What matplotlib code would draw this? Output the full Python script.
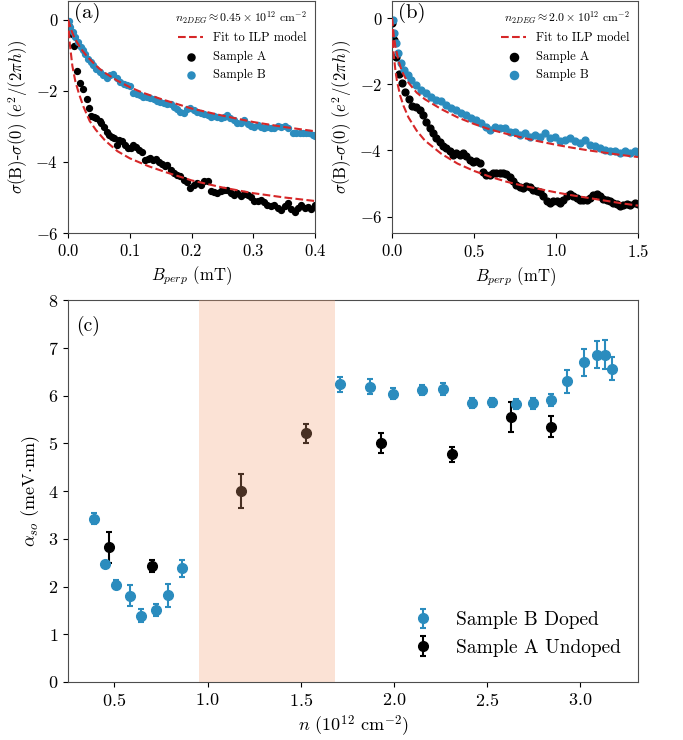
import numpy as np
import matplotlib
matplotlib.use("Agg")
import matplotlib.pyplot as plt

plt.rcParams.update({
    "font.family": "serif",
    "font.serif": ["cmr10", "DejaVu Serif"],
    "mathtext.fontset": "cm",
    "axes.formatter.use_mathtext": True,
    "axes.unicode_minus": True,
})

BLUE = "#2b8cbe"
RED = "#d62728"
SPAN = "#f2a176"

# ---- panel (a): n2DEG ~ 0.45e12 ----
a_B_x = [0.001, 0.004, 0.008, 0.012, 0.016, 0.021, 0.024, 0.028, 0.033, 0.037, 0.041, 0.046,
         0.052, 0.057, 0.063, 0.068, 0.073, 0.079, 0.084, 0.090, 0.095, 0.101, 0.106, 0.111,
         0.117, 0.122, 0.128, 0.133, 0.139, 0.144, 0.149, 0.155, 0.160, 0.166, 0.171, 0.177,
         0.182, 0.188, 0.193, 0.198, 0.204, 0.209, 0.215, 0.220, 0.226, 0.231, 0.236, 0.242,
         0.247, 0.253, 0.258, 0.263, 0.269, 0.274, 0.280, 0.285, 0.291, 0.296, 0.302, 0.307,
         0.313, 0.318, 0.323, 0.329, 0.334, 0.340, 0.345, 0.351, 0.356, 0.364, 0.370, 0.375,
         0.380, 0.386, 0.391, 0.397, 0.400]
a_B_y = [-0.03, -0.21, -0.35, -0.49, -0.63, -0.77, -0.87, -0.96, -1.10, -1.19, -1.28, -1.38,
         -1.47, -1.56, -1.65, -1.56, -1.54, -1.65, -1.75, -1.80, -1.84, -1.87, -2.07, -2.09,
         -2.12, -2.17, -2.17, -2.20, -2.23, -2.29, -2.31, -2.34, -2.36, -2.38, -2.45, -2.52,
         -2.59, -2.64, -2.52, -2.50, -2.54, -2.59, -2.62, -2.65, -2.68, -2.73, -2.71, -2.75,
         -2.77, -2.73, -2.68, -2.77, -2.82, -2.90, -2.91, -2.82, -2.93, -2.99, -3.01, -2.96,
         -3.01, -3.05, -3.02, -3.05, -3.04, -2.99, -3.02, -2.99, -3.05, -3.18, -3.19, -3.19,
         -3.18, -3.19, -3.19, -3.24, -3.27]
a_A_x = [0.001, 0.007, 0.010, 0.014, 0.019, 0.024, 0.030, 0.034, 0.038, 0.042, 0.046, 0.051,
         0.054, 0.059, 0.063, 0.066, 0.071, 0.075, 0.079, 0.083, 0.088, 0.092, 0.097, 0.102,
         0.106, 0.110, 0.115, 0.120, 0.125, 0.129, 0.133, 0.138, 0.142, 0.147, 0.152, 0.157,
         0.161, 0.166, 0.171, 0.177, 0.182, 0.188, 0.193, 0.198, 0.204, 0.209, 0.215, 0.220,
         0.226, 0.231, 0.236, 0.242, 0.247, 0.253, 0.258, 0.264, 0.269, 0.274, 0.280, 0.285,
         0.291, 0.296, 0.302, 0.307, 0.313, 0.318, 0.323, 0.329, 0.334, 0.340, 0.345, 0.351,
         0.356, 0.361, 0.367, 0.372, 0.378, 0.383, 0.389, 0.394, 0.400]
a_A_y = [-0.17, -0.40, -0.73, -1.44, -1.78, -1.94, -2.24, -2.50, -2.71, -2.75, -2.77, -2.84,
         -2.91, -3.01, -3.15, -3.24, -3.29, -3.33, -3.52, -3.38, -3.42, -3.52, -3.61, -3.61,
         -3.52, -3.58, -3.68, -3.73, -3.94, -3.92, -3.89, -3.96, -3.92, -4.01, -4.05, -4.11,
         -4.08, -4.22, -4.31, -4.36, -4.40, -4.50, -4.57, -4.73, -4.64, -4.59, -4.66, -4.54,
         -4.54, -4.82, -4.85, -4.87, -4.82, -4.78, -4.80, -4.87, -4.92, -4.87, -4.96, -4.89,
         -4.92, -4.98, -5.10, -5.10, -5.06, -5.13, -5.20, -5.24, -5.20, -5.29, -5.34, -5.24,
         -5.17, -5.32, -5.41, -5.29, -5.22, -5.29, -5.26, -5.32, -5.20]
a_fitB_x = [0, 0.005, 0.01, 0.02, 0.03, 0.04, 0.05, 0.06, 0.08, 0.10, 0.12, 0.15, 0.20, 0.25, 0.30, 0.35, 0.40]
a_fitB_y = [0, -0.28, -0.50, -0.80, -1.02, -1.20, -1.37, -1.50, -1.72, -1.90, -2.05, -2.23, -2.50, -2.70, -2.88, -3.02, -3.14]
a_fitA_x = [0, 0.003, 0.007, 0.012, 0.018, 0.025, 0.035, 0.045, 0.06, 0.08, 0.10, 0.13, 0.16, 0.20, 0.25, 0.30, 0.35, 0.40]
a_fitA_y = [0, -0.70, -1.30, -1.75, -2.10, -2.45, -2.85, -3.10, -3.40, -3.70, -3.90, -4.12, -4.30, -4.52, -4.72, -4.88, -5.00, -5.10]

# ---- panel (b): n2DEG ~ 2.0e12 ----
b_B_x = [0.004, 0.014, 0.024, 0.035, 0.055, 0.076, 0.096, 0.116, 0.147, 0.178, 0.208, 0.239,
         0.269, 0.300, 0.331, 0.361, 0.392, 0.422, 0.453, 0.484, 0.514, 0.545, 0.576, 0.596,
         0.627, 0.657, 0.688, 0.718, 0.749, 0.780, 0.810, 0.841, 0.871, 0.902, 0.933, 0.963,
         0.994, 1.024, 1.055, 1.086, 1.116, 1.147, 1.178, 1.208, 1.239, 1.269, 1.300, 1.331,
         1.361, 1.392, 1.422, 1.453, 1.484, 1.500]
b_B_y = [-0.05, -0.45, -0.76, -1.06, -1.36, -1.56, -1.71, -1.86, -2.02, -2.17, -2.27, -2.37,
         -2.47, -2.52, -2.62, -2.72, -2.77, -2.87, -2.92, -3.02, -3.07, -3.17, -3.28, -3.38,
         -3.28, -3.33, -3.33, -3.43, -3.43, -3.53, -3.48, -3.58, -3.53, -3.58, -3.48, -3.63,
         -3.58, -3.73, -3.68, -3.63, -3.73, -3.78, -3.68, -3.83, -3.88, -3.93, -3.98, -4.03,
         -4.03, -4.08, -4.03, -4.08, -4.03, -4.08]
b_A_x = [0.000, 0.014, 0.024, 0.041, 0.061, 0.082, 0.102, 0.122, 0.147, 0.171, 0.188, 0.208,
         0.229, 0.249, 0.269, 0.290, 0.310, 0.331, 0.351, 0.371, 0.392, 0.412, 0.433, 0.453,
         0.473, 0.494, 0.514, 0.535, 0.555, 0.576, 0.596, 0.616, 0.637, 0.657, 0.678, 0.698,
         0.718, 0.739, 0.759, 0.780, 0.800, 0.820, 0.841, 0.861, 0.882, 0.902, 0.922, 0.943,
         0.963, 0.984, 1.004, 1.024, 1.045, 1.065, 1.086, 1.106, 1.127, 1.147, 1.167, 1.188,
         1.208, 1.229, 1.249, 1.270, 1.290, 1.310, 1.331, 1.351, 1.371, 1.392, 1.412, 1.433,
         1.453, 1.484, 1.500]
b_A_y = [-0.15, -0.66, -1.16, -1.68, -1.95, -2.22, -2.45, -2.65, -2.69, -2.77, -2.92, -3.13,
         -3.33, -3.48, -3.63, -3.76, -3.86, -3.93, -4.03, -4.13, -4.08, -4.13, -4.08, -4.18,
         -4.29, -4.34, -4.32, -4.39, -4.64, -4.74, -4.74, -4.69, -4.67, -4.69, -4.69, -4.72,
         -4.79, -4.94, -5.04, -5.11, -5.14, -5.09, -5.11, -5.19, -5.24, -5.27, -5.39, -5.54,
         -5.60, -5.52, -5.54, -5.60, -5.50, -5.39, -5.32, -5.39, -5.44, -5.50, -5.51, -5.50,
         -5.44, -5.34, -5.31, -5.39, -5.46, -5.51, -5.54, -5.60, -5.63, -5.68, -5.65, -5.63,
         -5.65, -5.60, -5.62]
b_fitB_x = [0, 0.01, 0.02, 0.04, 0.06, 0.08, 0.10, 0.15, 0.20, 0.30, 0.40, 0.50, 0.60, 0.70, 0.80,
            0.90, 1.00, 1.10, 1.20, 1.30, 1.40, 1.50]
b_fitB_y = [0, -0.50, -0.85, -1.30, -1.60, -1.80, -1.95, -2.25, -2.45, -2.75, -3.00, -3.20, -3.37,
            -3.50, -3.62, -3.73, -3.83, -3.92, -4.00, -4.07, -4.14, -4.20]
b_fitA_x = [0, 0.005, 0.01, 0.02, 0.03, 0.05, 0.07, 0.10, 0.15, 0.20, 0.30, 0.40, 0.50, 0.60, 0.70,
            0.80, 0.90, 1.00, 1.10, 1.20, 1.30, 1.40, 1.50]
b_fitA_y = [0, -0.70, -1.10, -1.55, -1.90, -2.35, -2.65, -3.00, -3.40, -3.70, -4.10, -4.40, -4.62,
            -4.80, -4.95, -5.07, -5.17, -5.27, -5.36, -5.44, -5.52, -5.60, -5.67]

# ---- panel (c): alpha_so vs density ----
n_B = [0.39, 0.448, 0.507, 0.582, 0.645, 0.722, 0.786, 0.863, 1.713, 1.870, 1.997, 2.149,
       2.264, 2.42, 2.525, 2.657, 2.748, 2.84, 2.93, 3.02, 3.09, 3.13, 3.17]
alpha_B = [3.42, 2.47, 2.04, 1.81, 1.39, 1.51, 1.82, 2.38, 6.24, 6.19, 6.04, 6.12,
           6.14, 5.84, 5.86, 5.82, 5.84, 5.91, 6.30, 6.70, 6.86, 6.86, 6.56]
err_B = [0.12, 0.05, 0.10, 0.22, 0.14, 0.12, 0.24, 0.18, 0.16, 0.15, 0.12, 0.10,
         0.13, 0.10, 0.10, 0.10, 0.12, 0.12, 0.24, 0.28, 0.28, 0.30, 0.24]
n_A = [0.47, 0.70, 1.18, 1.53, 1.93, 2.31, 2.63, 2.84]
alpha_A = [2.82, 2.43, 4.00, 5.21, 5.00, 4.77, 5.55, 5.35]
err_A = [0.32, 0.13, 0.35, 0.20, 0.21, 0.16, 0.31, 0.22]
span_n = (0.954, 1.682)


def panel(ax, xA, yA, xB, yB, fxA, fyA, fxB, fyB, title, tag, ms):
    ax.plot(fxA, fyA, "--", color=RED, lw=1.5, zorder=3, label="Fit to ILP model")
    ax.plot(fxB, fyB, "--", color=RED, lw=1.5, zorder=3)
    ax.scatter(xA, yA, s=ms, color="black", zorder=2, label="Sample A")
    ax.scatter(xB, yB, s=ms, color=BLUE, zorder=2, label="Sample B")
    ax.set_xlabel(r"$B_{perp}$ (mT)", fontsize=12)
    ax.set_ylabel(r"$\sigma$(B)-$\sigma$(0) ($e^2/(2\pi h)$)", fontsize=12)
    ax.tick_params(labelsize=12)
    ax.text(0.025, 0.99, tag, transform=ax.transAxes, fontsize=15, va="top", ha="left")
    leg = ax.legend(loc="upper right", frameon=False, fontsize=9, title=title,
                    title_fontsize=8.5, borderaxespad=0.25, labelspacing=0.5,
                    markerscale=1.2)
    leg._legend_box.align = "right"


fig = plt.figure(figsize=(6.83, 7.40), dpi=100)
axa = fig.add_axes([0.0996, 0.6851, 0.3616, 0.3135])
axb = fig.add_axes([0.574, 0.6851, 0.360, 0.3135])
axc = fig.add_axes([0.0996, 0.0784, 0.8346, 0.516])

panel(axa, a_A_x, a_A_y, a_B_x, a_B_y, a_fitA_x, a_fitA_y, a_fitB_x, a_fitB_y,
      r"$n_{2DEG}\approx 0.45\times 10^{12}$ cm$^{-2}$", "(a)", 18)
axa.set_xlim(0, 0.4)
axa.set_ylim(-6, 0.52)
axa.set_xticks([0.0, 0.1, 0.2, 0.3, 0.4])
axa.set_yticks([0, -2, -4, -6])

panel(axb, b_A_x, b_A_y, b_B_x, b_B_y, b_fitA_x, b_fitA_y, b_fitB_x, b_fitB_y,
      r"$n_{2DEG}\approx 2.0\times 10^{12}$ cm$^{-2}$", "(b)", 24)
axb.set_xlim(0, 1.5)
axb.set_ylim(-6.5, 0.52)
axb.set_xticks([0.0, 0.5, 1.0, 1.5])
axb.set_yticks([0, -2, -4, -6])

axc.axvspan(*span_n, color=SPAN, alpha=0.3, lw=0, zorder=5)
axc.errorbar(n_B, alpha_B, yerr=err_B, fmt="o", color=BLUE, ms=7, elinewidth=1.5,
             capsize=2, capthick=1.5, label="Sample B Doped", zorder=3)
axc.errorbar(n_A, alpha_A, yerr=err_A, fmt="o", color="black", ms=7, elinewidth=1.5,
             capsize=2, capthick=1.5, label="Sample A Undoped", zorder=3)
axc.set_xlim(0.252, 3.309)
axc.set_ylim(0, 8)
axc.set_xticks([0.5, 1.0, 1.5, 2.0, 2.5, 3.0])
axc.tick_params(labelsize=13)
axc.set_xlabel(r"$n$ ($10^{12}$ cm$^{-2}$)", fontsize=13)
axc.set_ylabel(r"$\alpha_{so}$ (meV$\cdot$nm)", fontsize=13)
axc.text(0.015, 0.96, "(c)", transform=axc.transAxes, fontsize=14, va="top", ha="left")
axc.legend(loc="lower right", frameon=False, fontsize=14, bbox_to_anchor=(1.0, 0.02),
           handletextpad=0.7)

for ax in (axa, axb, axc):
    for sp in ax.spines.values():
        sp.set_color("0.3")

fig.savefig("out.png", dpi=100)
